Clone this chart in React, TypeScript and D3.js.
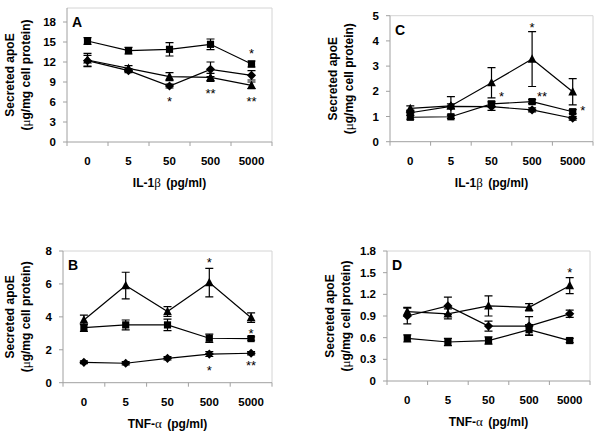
import { useEffect, useRef } from "react";
import * as d3 from "d3";

const doses = ["0", "5", "50", "500", "5000"];

// Panel A - IL-1β
const aSquare = [15.15, 13.7, 13.9, 14.65, 11.7];
const aSquareErr = [0.5, 0.5, 1.0, 0.8, 0.45];
const aDiamond = [12.2, 10.7, 8.4, 10.9, 10.0];
const aDiamondErr = [0.8, 0.3, 0.3, 1.1, 0.7];
const aTriangle = [12.3, 11.05, 9.8, 9.7, 8.5];
const aTriangleErr = [1.0, 0.4, 0.6, 0.6, 0.5];
const aTicks = [0, 3, 6, 9, 12, 15, 18];
const aStars = [
    { i: 4, v: 13.8, t: "*", beside: false },
    { i: 2, v: 6.6, t: "*", beside: false },
    { i: 3, v: 7.8, t: "**", beside: false },
    { i: 4, v: 6.6, t: "**", beside: false },
];

// Panel C - IL-1β
const cSquare = [0.97, 0.99, 1.5, 1.59, 1.19];
const cSquareErr = [0.08, 0.07, 0.1, 0.08, 0.08];
const cDiamond = [1.15, 1.4, 1.39, 1.26, 0.93];
const cDiamondErr = [0.1, 0.1, 0.15, 0.08, 0.07];
const cTriangle = [1.32, 1.42, 2.34, 3.28, 1.98];
const cTriangleErr = [0.1, 0.37, 0.6, 1.09, 0.52];
const cTicks = [0, 1, 2, 3, 4, 5];
const cStars = [
    { i: 3, v: 4.67, t: "*", beside: false },
    { i: 2, v: 1.93, t: "*", beside: true },
    { i: 3, v: 1.93, t: "**", beside: true },
    { i: 4, v: 1.37, t: "*", beside: true },
];

// Panel B - TNF-α
const bSquare = [3.34, 3.51, 3.51, 2.7, 2.68];
const bSquareErr = [0.22, 0.3, 0.35, 0.25, 0.1];
const bDiamond = [1.24, 1.18, 1.48, 1.74, 1.79];
const bDiamondErr = [0.08, 0.1, 0.1, 0.15, 0.1];
const bTriangle = [3.81, 5.9, 4.32, 6.08, 3.95];
const bTriangleErr = [0.29, 0.81, 0.3, 0.87, 0.29];
const bTicks = [0, 2, 4, 6, 8];
const bStars = [
    { i: 3, v: 7.5, t: "*", beside: false },
    { i: 4, v: 3.2, t: "*", beside: false },
    { i: 3, v: 0.95, t: "*", beside: false },
    { i: 4, v: 1.2, t: "**", beside: false },
];

// Panel D - TNF-α
const dSquare = [0.59, 0.54, 0.56, 0.71, 0.56];
const dSquareErr = [0.05, 0.05, 0.05, 0.07, 0.03];
const dDiamond = [0.9, 1.04, 0.76, 0.76, 0.93];
const dDiamondErr = [0.11, 0.12, 0.07, 0.13, 0.05];
const dTriangle = [0.96, 0.93, 1.04, 1.02, 1.32];
const dTriangleErr = [0.06, 0.07, 0.14, 0.05, 0.11];
const dTicks = [0, 0.3, 0.6, 0.9, 1.2, 1.5, 1.8];
const dStars = [{ i: 4, v: 1.55, t: "*", beside: false }];

const FONT = "'Liberation Sans', Arial, sans-serif";
const SYM = "'Liberation Serif', 'Times New Roman', serif";

const panels = [
    {
        label: "A", agent: "IL-1", greek: "β", left: 67, right: 272, frameTop: 8, bottom: 142, topPx: 22,
        ticks: aTicks, stars: aStars, titleX: 10,
        series: [
            { shape: "square", v: aSquare, e: aSquareErr },
            { shape: "diamond", v: aDiamond, e: aDiamondErr },
            { shape: "triangle", v: aTriangle, e: aTriangleErr },
        ],
    },
    {
        label: "C", agent: "IL-1", greek: "β", left: 390, right: 593, frameTop: 15.7, bottom: 141.7, topPx: 15.7,
        ticks: cTicks, stars: cStars, titleX: 333,
        series: [
            { shape: "square", v: cSquare, e: cSquareErr },
            { shape: "diamond", v: cDiamond, e: cDiamondErr },
            { shape: "triangle", v: cTriangle, e: cTriangleErr },
        ],
    },
    {
        label: "B", agent: "TNF-", greek: "α", left: 63, right: 272, frameTop: 251, bottom: 382.7, topPx: 251,
        ticks: bTicks, stars: bStars, titleX: 10,
        series: [
            { shape: "square", v: bSquare, e: bSquareErr },
            { shape: "diamond", v: bDiamond, e: bDiamondErr },
            { shape: "triangle", v: bTriangle, e: bTriangleErr },
        ],
    },
    {
        label: "D", agent: "TNF-", greek: "α", left: 387, right: 590, frameTop: 251, bottom: 381, topPx: 251,
        ticks: dTicks, stars: dStars, titleX: 330,
        series: [
            { shape: "square", v: dSquare, e: dSquareErr },
            { shape: "diamond", v: dDiamond, e: dDiamondErr },
            { shape: "triangle", v: dTriangle, e: dTriangleErr },
        ],
    },
];

const markerPath = (shape: string) => {
    if (shape === "square") return "M-3.6,-3.6H3.6V3.6H-3.6Z";
    if (shape === "diamond") return "M0,-4.6L4.6,0L0,4.6L-4.6,0Z";
    return "M0,-4.8L4.4,3.6L-4.4,3.6Z";
};

const App = () => {
    const svgRef = useRef<SVGSVGElement | null>(null);

    useEffect(() => {
        const svg = d3.select(svgRef.current);
        svg.selectAll("*").remove();
        svg.append("rect").attr("width", 600).attr("height", 432).attr("fill", "#fff");

        panels.forEach((p) => {
            const g = svg.append("g");
            const x = d3.scaleBand<string>().domain(doses).range([p.left, p.right]);
            const cx = (i: number) => (x(doses[i]) as number) + x.bandwidth() / 2;
            const yMax = p.ticks[p.ticks.length - 1];
            const y = d3.scaleLinear().domain([0, yMax]).range([p.bottom, p.topPx]);

            // frame (top and right)
            g.append("path")
                .attr("d", `M${p.left},${p.frameTop}H${p.right}V${p.bottom}`)
                .attr("fill", "none")
                .attr("stroke", "#d4d4d4")
                .attr("stroke-width", 1);

            // y axis
            g.append("line")
                .attr("x1", p.left).attr("x2", p.left)
                .attr("y1", p.frameTop).attr("y2", p.bottom)
                .attr("stroke", "#a0a0a0");
            g.selectAll(".ytick")
                .data(p.ticks)
                .enter()
                .append("line")
                .attr("x1", p.left - 4).attr("x2", p.left)
                .attr("y1", (d) => y(d)).attr("y2", (d) => y(d))
                .attr("stroke", "#a0a0a0");
            g.selectAll(".ylab")
                .data(p.ticks)
                .enter()
                .append("text")
                .attr("x", p.left - 11)
                .attr("y", (d) => y(d) + 4)
                .attr("text-anchor", "end")
                .attr("font-family", FONT)
                .attr("font-weight", "bold")
                .attr("font-size", 11.5)
                .text((d) => d3.format("~g")(d));

            // x axis
            g.append("line")
                .attr("x1", p.left).attr("x2", p.right)
                .attr("y1", p.bottom).attr("y2", p.bottom)
                .attr("stroke", "#a0a0a0");
            const bounds = doses.map((d) => x(d) as number).concat([p.right]);
            g.selectAll(".xtick")
                .data(bounds)
                .enter()
                .append("line")
                .attr("x1", (d) => d).attr("x2", (d) => d)
                .attr("y1", p.bottom).attr("y2", p.bottom + 4)
                .attr("stroke", "#a0a0a0");
            g.selectAll(".xlab")
                .data(doses)
                .enter()
                .append("text")
                .attr("x", (d, i) => cx(i))
                .attr("y", p.bottom + 23)
                .attr("text-anchor", "middle")
                .attr("font-family", FONT)
                .attr("font-weight", "bold")
                .attr("font-size", 11.5)
                .text((d) => d);

            // x title
            const xt = g.append("text")
                .attr("x", (p.left + p.right) / 2)
                .attr("y", p.bottom + 45)
                .attr("text-anchor", "middle")
                .attr("font-family", FONT)
                .attr("font-weight", "bold")
                .attr("font-size", 12);
            xt.append("tspan").text(p.agent);
            xt.append("tspan").attr("font-family", SYM).attr("font-weight", "normal").attr("font-size", 13).text(p.greek);
            xt.append("tspan").attr("dx", 2).text(" (pg/ml)");

            // y title
            const midY = (p.frameTop + p.bottom) / 2;
            g.append("text")
                .attr("transform", `translate(${p.titleX + 4},${midY}) rotate(-90)`)
                .attr("text-anchor", "middle")
                .attr("font-family", FONT)
                .attr("font-weight", "bold")
                .attr("font-size", 12)
                .text("Secreted apoE");
            const yt2 = g.append("text")
                .attr("transform", `translate(${p.titleX + 20},${midY}) rotate(-90)`)
                .attr("text-anchor", "middle")
                .attr("font-family", FONT)
                .attr("font-weight", "bold")
                .attr("font-size", 12);
            yt2.append("tspan").text("(");
            yt2.append("tspan").attr("font-family", SYM).attr("font-weight", "normal").attr("font-size", 13).text("μ");
            yt2.append("tspan").text("g/mg cell protein)");

            // panel letter
            g.append("text")
                .attr("x", p.left + 5)
                .attr("y", p.frameTop + 19)
                .attr("font-family", FONT)
                .attr("font-weight", "bold")
                .attr("font-size", 14)
                .text(p.label);

            // lines
            const line = d3.line<number>().x((d, i) => cx(i)).y((d) => y(d));
            p.series.forEach((s) => {
                g.append("path")
                    .attr("d", line(s.v) as string)
                    .attr("fill", "none")
                    .attr("stroke", "#000")
                    .attr("stroke-width", 1.2);
            });

            // error bars
            p.series.forEach((s) => {
                s.v.forEach((v, i) => {
                    const e = s.e[i];
                    const xc = cx(i);
                    g.append("path")
                        .attr("d", `M${xc},${y(v - e)}V${y(v + e)}M${xc - 4},${y(v + e)}H${xc + 4}M${xc - 4},${y(v - e)}H${xc + 4}`)
                        .attr("fill", "none")
                        .attr("stroke", "#000")
                        .attr("stroke-width", 1.2);
                });
            });

            // markers
            p.series.forEach((s) => {
                g.selectAll(`.m-${s.shape}`)
                    .data(s.v)
                    .enter()
                    .append("path")
                    .attr("transform", (d, i) => `translate(${cx(i)},${y(d)})`)
                    .attr("d", markerPath(s.shape))
                    .attr("fill", "#000");
            });

            // significance stars
            g.selectAll(".star")
                .data(p.stars)
                .enter()
                .append("text")
                .attr("x", (d) => cx(d.i) + (d.beside ? 10 : 0))
                .attr("y", (d) => y(d.v) + 7.5)
                .attr("text-anchor", "middle")
                .attr("font-family", FONT)
                .attr("font-size", 13)
                .text((d) => d.t);
        });
    }, []);

    return (
        <svg
            ref={svgRef}
            width={600}
            height={432}
            style={{ position: "absolute", left: 0, top: 0, display: "block" }}
        ></svg>
    );
};

export default App;
